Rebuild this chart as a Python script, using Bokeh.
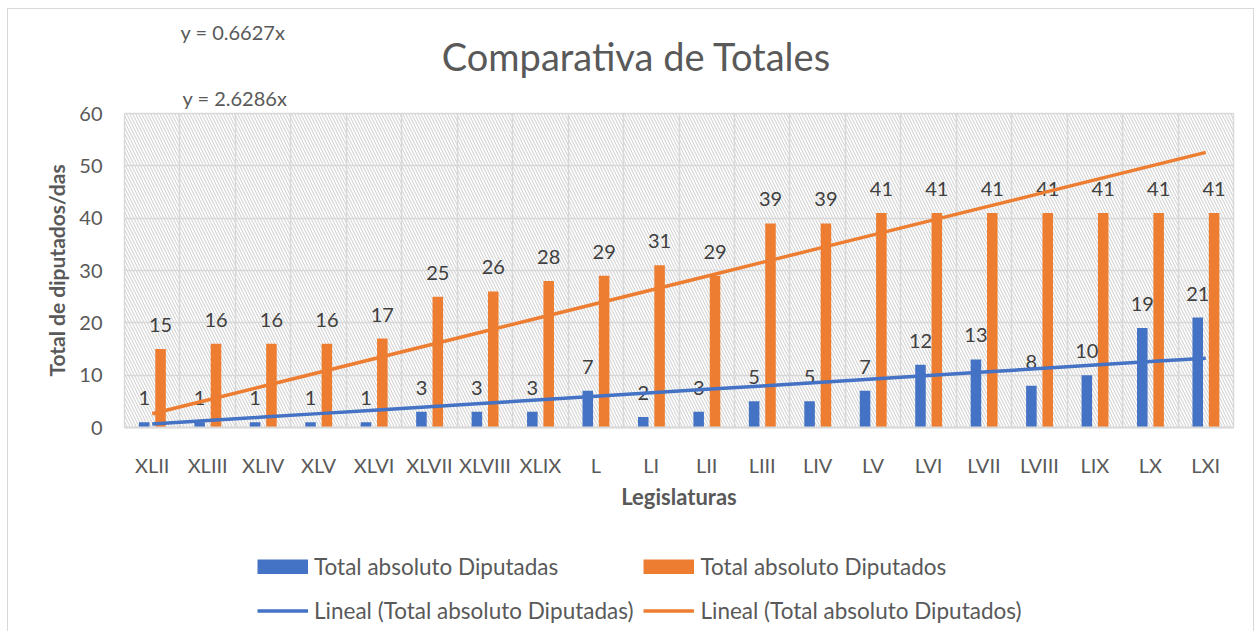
from bokeh.plotting import figure
from bokeh.models import (ColumnDataSource, FixedTicker, Legend, LegendItem, BoxAnnotation)
from bokeh.layouts import column
from bokeh.transform import dodge
from bokeh.embed import file_html
from bokeh.resources import INLINE

legislaturas = ["XLII", "XLIII", "XLIV", "XLV", "XLVI", "XLVII", "XLVIII", "XLIX", "L", "LI",
                "LII", "LIII", "LIV", "LV", "LVI", "LVII", "LVIII", "LIX", "LX", "LXI"]
diputadas = [1, 1, 1, 1, 1, 3, 3, 3, 7, 2, 3, 5, 5, 7, 12, 13, 8, 10, 19, 21]
diputados = [15, 16, 16, 16, 17, 25, 26, 28, 29, 31, 29, 39, 39, 41, 41, 41, 41, 41, 41, 41]
y_ticks = [0, 10, 20, 30, 40, 50, 60]
series_names = ["Total absoluto Diputadas", "Total absoluto Diputados"]

FONT = "Lato"
GRAY = "#595959"
DARK = "#404040"
BLUE = "#4472C4"
ORANGE = "#ED7D31"
GRID = "#d9d9d9"

n = len(legislaturas)
xs = list(range(1, n + 1))


def slope(ys):
    # Excel linear trendline with intercept fixed at 0
    return sum(a * b for a, b in zip(xs, ys)) / sum(a * a for a in xs)


m_a = slope(diputadas)
m_o = slope(diputados)

src = ColumnDataSource(dict(
    x=xs,
    a=diputadas,
    o=diputados,
    a_txt=[str(v) for v in diputadas],
    o_txt=[str(v) for v in diputados],
    ta=[m_a * x for x in xs],
    to=[m_o * x for x in xs],
))

W = 1245
OX, OY = 8, 9          # page position of the canvas origin
HEAD_H = 70
FL, FR, FT, FB = 124, 1233, 113, 427   # plot-area edges in page pixels
BOTTOM = 90
PAGE_END = 631
FOOT_H = PAGE_END - (FB + BOTTOM)


def bare(fig):
    fig.grid.visible = False
    fig.outline_line_color = None
    fig.border_fill_color = "white"
    fig.background_fill_color = "white"


# ---------- header (chart title + first trendline equation) ----------
head = figure(width=W, height=HEAD_H, x_range=(FL, FR), y_range=(OY + HEAD_H, OY),
              x_axis_type=None, y_axis_type=None, output_backend="svg",
              toolbar_location=None, min_border=0,
              min_border_left=FL - OX, min_border_right=OX + W - FR)
bare(head)
head.text(x=[636], y=[55], text=["Comparativa de Totales"], text_align="center",
          text_baseline="middle", text_font={"value": FONT}, text_font_size="38px",
          text_color=GRAY)
head.text(x=[180], y=[31], text=[f"y = {m_a:.4f}x"], text_align="left",
          text_baseline="middle", text_font={"value": FONT}, text_font_size="20px",
          text_color=GRAY)

# ---------- main chart ----------
TOP = FT - (OY + HEAD_H)
p = figure(frame_width=FR - FL, frame_height=FB - FT, x_range=(0.5, n + 0.5), y_range=(0, 60),
           output_backend="svg", toolbar_location=None,
           min_border_left=FL - OX, min_border_right=OX + W - FR, min_border_top=TOP,
           min_border_bottom=BOTTOM)
p.background_fill_color = "white"
p.border_fill_color = "white"
p.outline_line_color = GRID
p.outline_line_width = 1.5

# second trendline equation sits just above the plot area
p.title.text = f"y = {m_o:.4f}x"
p.title.align = "left"
p.title.offset = 182 - FL
p.title.text_font = FONT
p.title.text_font_size = "20px"
p.title.text_font_style = "normal"
p.title.text_color = GRAY
p.title.standoff = 8

# hatched plot area background
p.add_layout(BoxAnnotation(fill_alpha=0, line_color=None, hatch_pattern="\\",
                           hatch_color="#d6d6d6", hatch_scale=6, hatch_weight=1.2,
                           level="underlay"))

# grids
p.xgrid.ticker = FixedTicker(ticks=[i + 0.5 for i in range(n + 1)])
p.ygrid.ticker = FixedTicker(ticks=y_ticks)
for g in (p.xgrid, p.ygrid):
    g.grid_line_color = GRID
    g.grid_line_width = 1.5

# axes
p.xaxis.ticker = FixedTicker(ticks=xs)
p.xaxis.major_label_overrides = {x: lab for x, lab in zip(xs, legislaturas)}
p.yaxis.ticker = FixedTicker(ticks=y_ticks)
for ax in (p.xaxis, p.yaxis):
    ax.major_tick_line_color = None
    ax.minor_tick_line_color = None
    ax.major_label_text_font = FONT
    ax.major_label_text_font_size = "20px"
    ax.major_label_text_color = GRAY
    ax.axis_label_text_font = FONT
    ax.axis_label_text_font_style = "bold"
    ax.axis_label_text_color = GRAY
p.xaxis.axis_label_text_font_size = "22px"
p.yaxis.axis_label_text_font_size = "21px"
p.xaxis.axis_line_color = GRID
p.xaxis.axis_line_width = 2
p.yaxis.axis_line_color = None
p.xaxis.axis_label = "Legislaturas"
p.yaxis.axis_label = "Total de diputados/das"
p.xaxis.major_label_standoff = 19
p.xaxis.axis_label_standoff = 3
p.yaxis.major_label_standoff = 16
p.yaxis.axis_label_standoff = 7

BW = 0.19
DA, DO = -0.145, 0.15
p.vbar(x=dodge("x", DA, range=p.x_range), top="a", width=BW, source=src,
       fill_color=BLUE, line_color=None)
p.vbar(x=dodge("x", DO, range=p.x_range), top="o", width=BW, source=src,
       fill_color=ORANGE, line_color=None)

p.text(x=dodge("x", DA, range=p.x_range), y="a", text="a_txt", source=src,
       text_align="center", text_baseline="middle", y_offset=-24,
       text_font={"value": FONT}, text_font_size="20px", text_color=DARK)
p.text(x=dodge("x", DO, range=p.x_range), y="o", text="o_txt", source=src,
       text_align="center", text_baseline="middle", y_offset=-24,
       text_font={"value": FONT}, text_font_size="20px", text_color=DARK)

p.line(x="x", y="ta", source=src, line_color=BLUE, line_width=3.5)
p.line(x="x", y="to", source=src, line_color=ORANGE, line_width=3.5)

# ---------- footer holding the legend ----------
# legend keys reuse the same series; the footer's ranges keep these marks out of view.
# bar keys are drawn as thick butt-capped strokes so they fill the whole key box.
foot = figure(width=W, height=FOOT_H, x_range=(-3, -2), y_range=(0, 1),
              x_axis_type=None, y_axis_type=None, output_backend="svg",
              toolbar_location=None, min_border=0,
              min_border_left=FL - OX, min_border_right=OX + W - FR)
bare(foot)
kb = foot.line(x="x", y="a", source=src, line_color=BLUE, line_width=15, line_cap="butt")
ko = foot.line(x="x", y="o", source=src, line_color=ORANGE, line_width=15, line_cap="butt")
kla = foot.line(x="x", y="ta", source=src, line_color=BLUE, line_width=3.5)
klo = foot.line(x="x", y="to", source=src, line_color=ORANGE, line_width=3.5)

legend = Legend(items=[
    LegendItem(label=series_names[0], renderers=[kb]),
    LegendItem(label=series_names[1], renderers=[ko]),
    LegendItem(label=f"Lineal ({series_names[0]})", renderers=[kla]),
    LegendItem(label=f"Lineal ({series_names[1]})", renderers=[klo]),
], orientation="horizontal", ncols=2)
legend.label_text_font = FONT
legend.label_text_font_size = "22.5px"
legend.label_text_color = GRAY
legend.glyph_width = 51
legend.glyph_height = 15
legend.label_standoff = 6
legend.label_height = 34
legend.spacing = 10
legend.padding = 0
legend.margin = 0
legend.border_line_color = None
legend.background_fill_alpha = 0
legend.location = (257 - FL, PAGE_END - 627)
foot.add_layout(legend, "center")

layout = column(head, p, foot, spacing=0, margin=(8, 0, 0, 7),
                styles={"border-left": "1px solid #d9d9d9", "border-top": "1px solid #d9d9d9",
                        "border-right": "1px solid #d9d9d9"})

open("out.html", "w").write(file_html(layout, INLINE))
